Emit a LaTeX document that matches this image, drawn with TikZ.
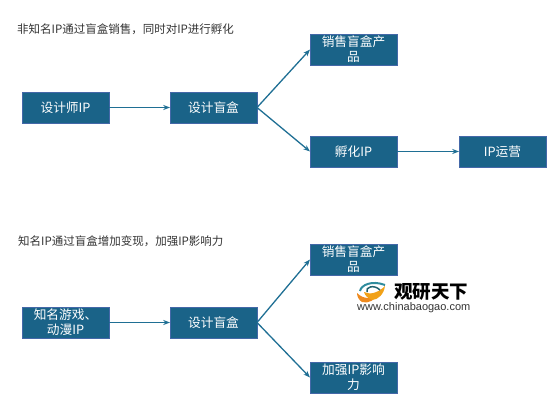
\documentclass[tikz,border=0pt]{standalone}
\usepackage{fontspec}
\setmainfont{Noto Sans CJK SC}
\newfontfamily\latinfont{Liberation Sans}
\usetikzlibrary{arrows.meta,positioning}
\definecolor{boxfill}{HTML}{1A6388}
\definecolor{boxline}{HTML}{4468A8}
\definecolor{arrowblue}{HTML}{1F6F94}
\definecolor{logoteal}{HTML}{2F8C9E}
\definecolor{logoorange}{HTML}{EE8A1E}
\tikzset{
  flowbox/.style={draw=boxline, fill=boxfill, line width=0.8pt, minimum width=87pt, minimum height=31pt, inner sep=0pt, outer sep=0pt, align=center, text=white, font=\fontsize{12.7pt}{15pt}\selectfont},
  headline/.style={anchor=west, inner sep=0pt, text=black!80, font=\fontsize{11.5pt}{13pt}\selectfont},
  flowarrow/.style={-{Stealth[length=2.4mm]}, line width=1.3pt, color=arrowblue}
}
\begin{document}
\begin{tikzpicture}[x=1pt, y=-1pt]
      \useasboundingbox (0,0) rectangle (556,402);

      % upper chain
      \node (titleA) [headline] at (17,29) {非知名IP通过盲盒销售，同时对IP进行孵化};
      \node (designer) [flowbox] at (65.5,107.5) {设计师IP};
      \node (blindA) [flowbox, right=61pt of designer] {设计盲盒};
      \node (salesA) [flowbox, right=53pt of blindA, yshift=58pt] {销售盲盒产\\品};
      \node (incubate) [flowbox, right=53pt of blindA, yshift=-44pt] {孵化IP};
      \node (operate) [flowbox, right=62pt of incubate] {IP运营};

      \draw[flowarrow] (designer.east) -- (blindA.west);
      \draw[flowarrow] (blindA.east) -- (salesA.west);
      \draw[flowarrow] (blindA.east) -- (incubate.west);
      \draw[flowarrow] (incubate.east) -- (operate.west);

      % lower chain
      \node (titleB) [headline] at (18,241) {知名IP通过盲盒增加变现，加强IP影响力};
      \node (game) [flowbox] at (65.5,322.5) {知名游戏、\\动漫IP};
      \node (blindB) [flowbox, right=61pt of game] {设计盲盒};
      \node (salesB) [flowbox, right=53pt of blindB, yshift=63pt] {销售盲盒产\\品};
      \node (boost) [flowbox, right=53pt of blindB, yshift=-55pt] {加强IP影响\\力};

      \draw[flowarrow] (game.east) -- (blindB.west);
      \draw[flowarrow] (blindB.east) -- (salesB.west);
      \draw[flowarrow] (blindB.east) -- (boost.west);

      % watermark
      \fill[logoorange] (357,293) .. controls (364,300) and (372,299) .. (378,293) .. controls (376,300) and (368,304) .. (362,302) .. controls (359,300) and (357,297) .. (357,293);
      \fill[logoorange!80!yellow] (364,292) .. controls (370,295) and (378,293) .. (385,286) .. controls (384,294) and (378,300) .. (372,300) .. controls (368,298) and (365,296) .. (364,292);
      \draw[logoteal, line width=2pt] (360,291) .. controls (361,285) and (372,280) .. (385,285);
      \draw[logoteal!70!black, line width=1.5pt] (367,292) .. controls (365,287) and (374,284) .. (380,290);
      \node (logoname) [anchor=west, inner sep=0pt, font=\fontsize{18.5pt}{20pt}\selectfont\bfseries] at (394,292) {观研天下};
      \node (logourl) [anchor=west, inner sep=0pt, text=black!80, font=\latinfont\fontsize{11pt}{12pt}\selectfont] at (357,308) {www.chinabaogao.com};
  \end{tikzpicture}
\end{document}
